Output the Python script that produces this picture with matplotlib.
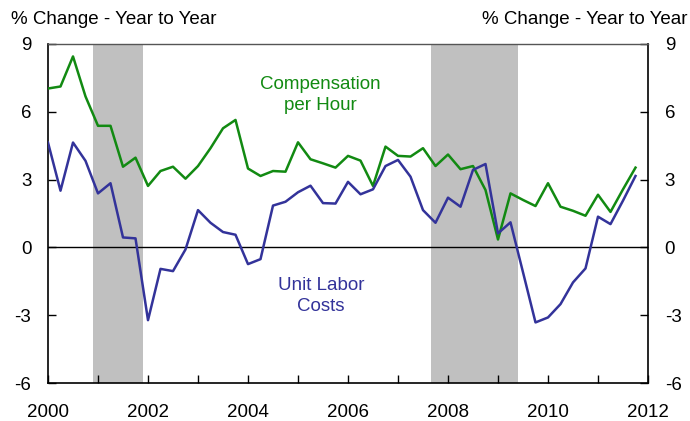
import numpy as np
from matplotlib import pyplot as plt

plt.rcParams['font.family'] = ['Liberation Sans', 'DejaVu Sans']

# quarterly, 2000Q1 .. 2011Q4
quarters = 2000 + np.arange(48) * 0.25

comp_per_hour = [7.03, 7.12, 8.45, 6.68, 5.38, 5.38, 3.57, 3.97,
                 2.72, 3.38, 3.57, 3.04, 3.60, 4.39, 5.27, 5.64,
                 3.49, 3.16, 3.38, 3.35, 4.65, 3.90, 3.72, 3.53,
                 4.05, 3.84, 2.72, 4.46, 4.05, 4.02, 4.39, 3.60,
                 4.11, 3.46, 3.60, 2.54, 0.35, 2.39, 2.10, 1.83,
                 2.84, 1.80, 1.62, 1.40, 2.33, 1.57, 2.57, 3.53]

unit_labor_costs = [4.64, 2.51, 4.64, 3.83, 2.39, 2.84, 0.44, 0.40,
                    -3.22, -0.95, -1.05, -0.09, 1.65, 1.09, 0.68, 0.56,
                    -0.74, -0.52, 1.85, 2.02, 2.44, 2.73, 1.96, 1.94,
                    2.90, 2.35, 2.57, 3.60, 3.87, 3.13, 1.65, 1.09,
                    2.20, 1.80, 3.43, 3.69, 0.62, 1.11, -1.10, -3.32,
                    -3.10, -2.51, -1.55, -0.93, 1.36, 1.03, 2.07, 3.16]

recessions = [(2000.9, 2001.9), (2007.66, 2009.4)]

green = '#128a12'
blue = '#33339a'
fs = 13.5

fig = plt.figure(figsize=(6.9, 4.21), dpi=100)
ax = fig.add_axes([48 / 690, 1 - 383 / 421, 600 / 690, 339 / 421])

for start, end in recessions:
    ax.axvspan(start, end, color='#c0c0c0', lw=0, zorder=0)

ax.axhline(0, color='black', lw=1.0, zorder=1)
ax.plot(quarters, comp_per_hour, color=green, lw=1.8, zorder=3)
ax.plot(quarters, unit_labor_costs, color=blue, lw=1.8, zorder=3)

ax.set_xlim(2000, 2012)
ax.set_ylim(-6, 9)
ax.set_xticks(np.arange(2000, 2013, 1))
ax.set_xticklabels([str(y) if y % 2 == 0 else '' for y in range(2000, 2013)])
ax.set_yticks([-6, -3, 0, 3, 6, 9])
ax.set_yticklabels(['-6', '-3', '0', '3', '6', '9'])

ax.tick_params(axis='both', direction='in', length=6, width=1,
               labelsize=fs, colors='black')
ax.tick_params(axis='x', pad=15)
ax.tick_params(axis='y', left=True, right=True, labelleft=True,
               labelright=True, pad=12)
ax.tick_params(axis='x', top=False)

for side in ['left', 'bottom', 'right']:
    ax.spines[side].set_linewidth(1.2)
ax.spines['top'].set_color('#555555')
ax.spines['top'].set_linewidth(1.0)

fig.text(11 / 690, 1 - 20 / 421, '% Change - Year to Year', fontsize=fs,
         ha='left', va='center')
fig.text(687 / 690, 1 - 20 / 421, '% Change - Year to Year', fontsize=fs,
         ha='right', va='center')

ax.text(2005.45, 6.75, 'Compensation\nper Hour', color=green, fontsize=fs,
        ha='center', va='center', linespacing=1.3)
ax.text(2005.46, -2.15, 'Unit Labor\nCosts', color=blue, fontsize=fs,
        ha='center', va='center', linespacing=1.3)

fig.savefig('out.png', dpi=100)
